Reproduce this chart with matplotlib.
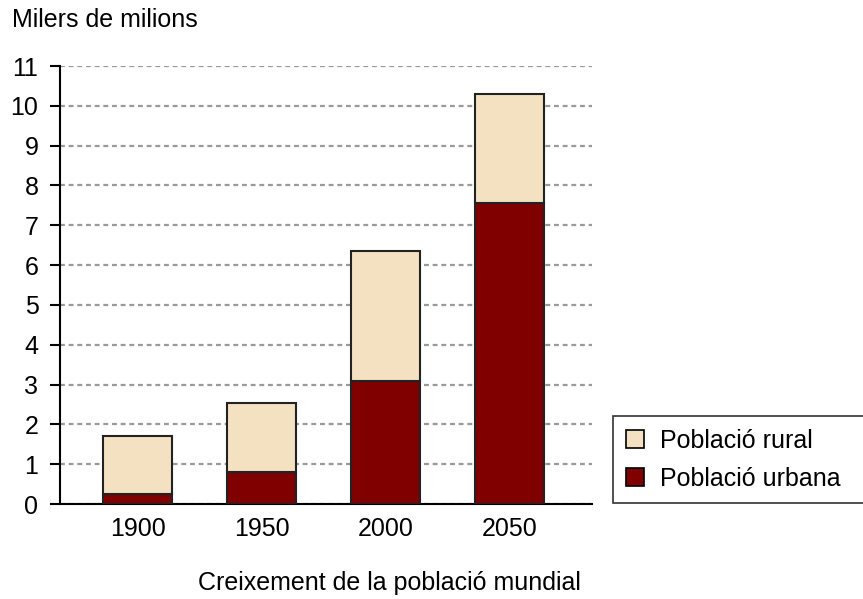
import matplotlib.pyplot as plt
import numpy as np

plt.rcParams['font.family'] = ['Liberation Sans', 'DejaVu Sans']

years = ['1900', '1950', '2000', '2050']
urbana = [0.24, 0.80, 3.10, 7.55]
total = [1.70, 2.54, 6.35, 10.30]
rural = [t - u for t, u in zip(total, urbana)]

c_urbana = '#800000'
c_rural = '#F4E1C1'
edge = '#222222'

fig = plt.figure(figsize=(8.63, 5.99), dpi=100)
ax = fig.add_axes([60 / 863, 95 / 599, 532 / 863, 438 / 599])

x = np.arange(len(years))
ax.bar(x, urbana, width=0.55, color=c_urbana, edgecolor=edge, linewidth=1.5,
       label='Població urbana', zorder=3)
ax.bar(x, rural, width=0.55, bottom=urbana, color=c_rural, edgecolor=edge,
       linewidth=1.5, label='Població rural', zorder=3)

ax.set_xlim(-0.625, 3.665)
ax.set_ylim(0, 11)
ax.set_yticks(range(0, 12))
ax.set_xticks(x)
ax.set_xticklabels(years)

ax.yaxis.grid(True, color='#9a9a9a', linestyle=(0, (2.2, 1.7)), linewidth=1.6, zorder=0)
for s in ['top', 'right']:
    ax.spines[s].set_visible(False)
for s in ['left', 'bottom']:
    ax.spines[s].set_linewidth(1.5)
    ax.spines[s].set_color('black')

ax.tick_params(axis='y', length=7.5, width=1.5, pad=8, labelsize=18)
ax.tick_params(axis='x', length=0, pad=9, labelsize=18)

fig.text(12 / 863, 1 - 20 / 599, 'Milers de milions', fontsize=18, va='center', ha='left')
fig.text(389 / 863, 1 - 583 / 599, 'Creixement de la població mundial', fontsize=18,
         va='center', ha='center')

h, l = ax.get_legend_handles_labels()
leg = fig.legend(h[::-1], l[::-1], loc='lower left',
                 bbox_to_anchor=(613 / 863, 96 / 599, 252 / 863, 86 / 599),
                 mode='expand', fontsize=18, frameon=True, fancybox=False,
                 edgecolor='black', handlelength=0.72, handleheight=0.72,
                 handletextpad=0.65, borderpad=0.5, labelspacing=0.55,
                 borderaxespad=0)
leg.get_frame().set_linewidth(1.2)
for p in leg.get_patches():
    p.set_edgecolor('black')
    p.set_linewidth(1.2)
# nudge handles to the right like the original
leg._legend_box.align = 'left'

fig.savefig('out.png', dpi=100)
